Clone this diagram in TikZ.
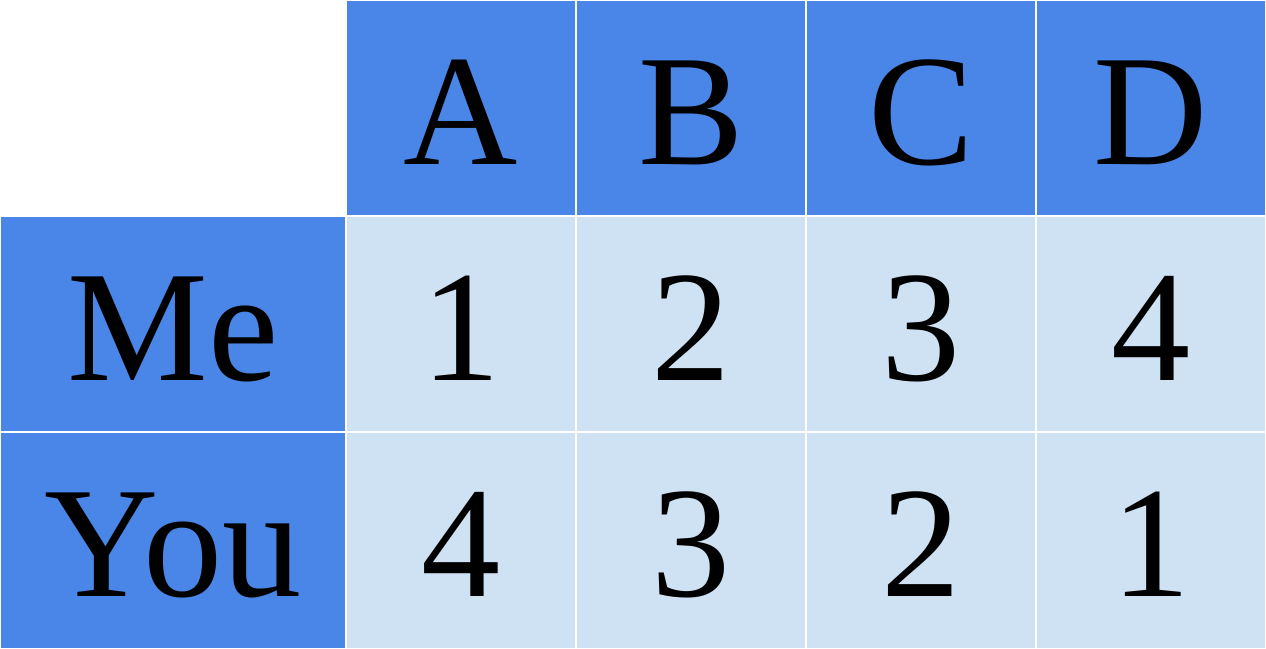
\documentclass[tikz,border=0pt]{standalone}
\usepackage{fontspec}
\setmainfont{Liberation Serif}
\usepackage{xcolor}
\definecolor{headblue}{HTML}{4A86E8}
\definecolor{cellblue}{HTML}{CFE2F3}
\tikzset{
  headcell/.style={fill=headblue,draw=white,line width=0.6pt},
  bodycell/.style={fill=cellblue,draw=white,line width=0.6pt},
  celltext/.style={anchor=base,inner sep=0pt,font=\fontsize{45}{50}\selectfont}
}
\begin{document}
\begin{tikzpicture}[x=0.01cm,y=0.01cm]
      \useasboundingbox (0,0) rectangle (1266,649);
      % header row
      \foreach \l/\a/\b in {A/346/576,B/576/806,C/806/1036,D/1036/1266}{
        \draw[headcell] (\a,433) rectangle (\b,649);
        \node[celltext] (head\l) at ({(\a+\b)/2},484) {\l};
      }
      % row labels
      \draw[headcell] (0,217) rectangle (346,433);
      \node[celltext] (rowMe) at (173,268) {Me};
      \draw[headcell] (0,0) rectangle (346,217);
      \node[celltext] (rowYou) at (173,52) {You};
      % values
      \foreach \a/\b/\m/\y in {346/576/1/4,576/806/2/3,806/1036/3/2,1036/1266/4/1}{
        \draw[bodycell] (\a,217) rectangle (\b,433);
        \node[celltext] (me\m) at ({(\a+\b)/2},268) {\m};
        \draw[bodycell] (\a,0) rectangle (\b,217);
        \node[celltext] (you\y) at ({(\a+\b)/2},52) {\y};
      }
    \end{tikzpicture}
\end{document}
